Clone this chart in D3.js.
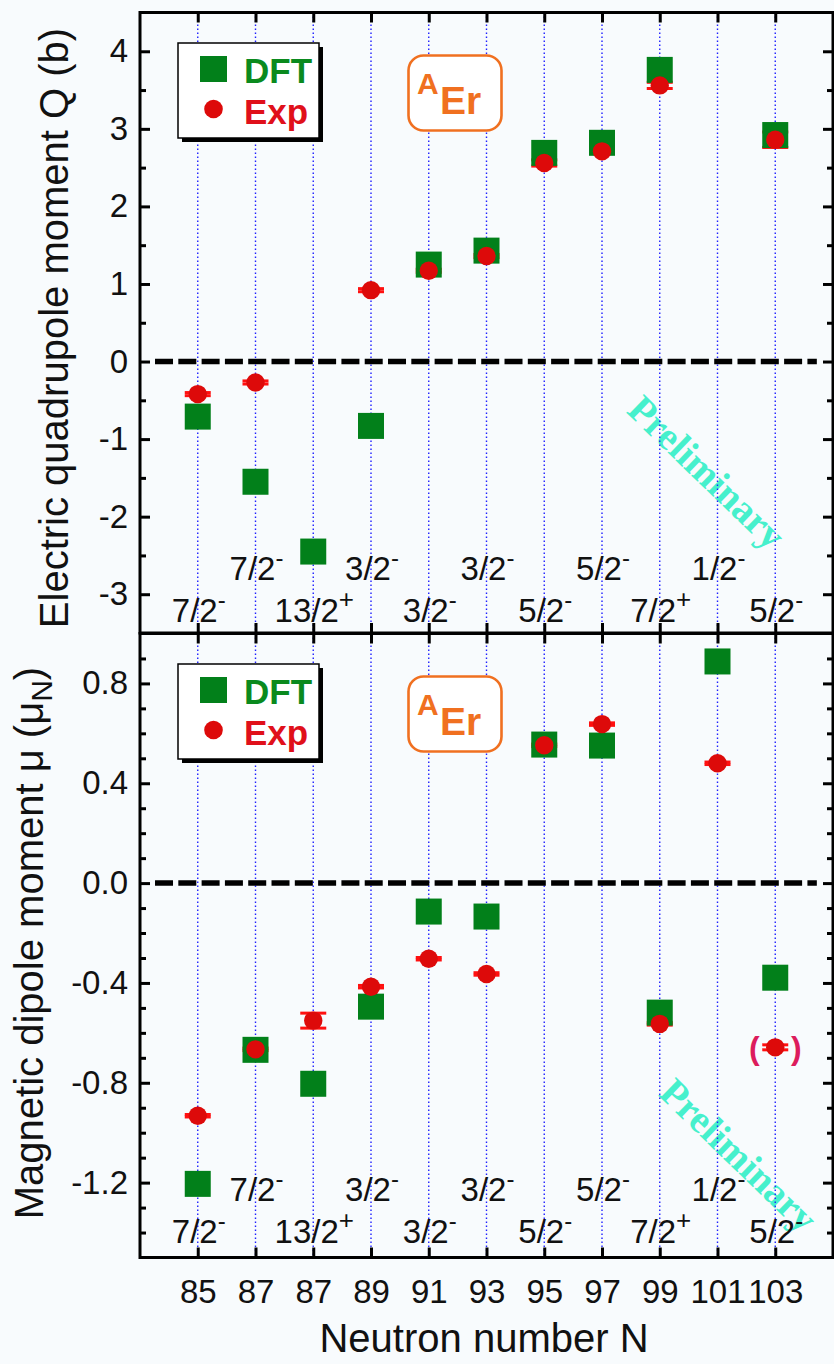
<!DOCTYPE html>
<html>
<head>
<meta charset="utf-8">
<script src="https://cdn.jsdelivr.net/npm/d3@7"></script>
<style>
  html, body { margin: 0; padding: 0; background: #f8fbfd; }
  svg { display: block; font-family: "Liberation Sans", Arial, sans-serif; }
</style>
</head>
<body>
<svg id="chart" width="834" height="1364"></svg>
<script>
// Odd-A erbium isotopes: neutron number N and ground/isomer spin-parity
const neutronNumbers = ["85", "87", "87", "89", "91", "93", "95", "97", "99", "101", "103"];
const spinValues     = ["7/2", "7/2", "13/2", "3/2", "3/2", "3/2", "5/2", "5/2", "7/2", "1/2", "5/2"];
const spinParities   = ["-", "-", "+", "-", "-", "-", "-", "-", "+", "-", "-"];

// Electric quadrupole moment Q (b); null where no value exists
const quadDFT    = [-0.71, -1.55, -2.45, -0.83, 1.25, 1.43, 2.69, 2.82, 3.76, null, 2.92];
const quadExp    = [-0.42, -0.27, null, 0.92, 1.17, 1.36, 2.56, 2.71, 3.56, null, 2.86];
const quadExpErr = [0.02, 0.02, null, 0.02, 0.02, 0.02, 0.04, 0.02, 0.04, null, 0.10];

// Magnetic dipole moment mu (mu_N)
const magDFT    = [-1.205, -0.668, -0.804, -0.495, -0.114, -0.134, 0.555, 0.551, -0.519, 0.888, -0.379];
const magExp    = [-0.932, -0.666, -0.551, -0.415, -0.303, -0.364, 0.552, 0.637, -0.564, 0.480, -0.658];
const magExpErr = [0.005, 0.005, 0.03, 0.005, 0.005, 0.005, 0.005, 0.005, 0.005, 0.005, 0.01];
const magExpTentative = [false, false, false, false, false, false, false, false, false, false, true];

// Axis tick values
const quadTicks = [-3, -2, -1, 0, 1, 2, 3, 4];
const magTicks  = [-1.2, -0.8, -0.4, 0.0, 0.4, 0.8];

const GREEN = "#02801a", RED = "#dd0a0a", ERR = "#ff1010", ORANGE = "#f07020", CYAN = "#46f0cc";
const X0 = 140, X1 = 833;
const svg = d3.select("#chart");

const x = d3.scaleLinear().domain([-1, 11]).range([X0, X1]);
const idx = d3.range(neutronNumbers.length);

const panels = [
  { top: 12.5, bottom: 633, domain: [-3.5, 4.5], minorCount: 16,
    dft: quadDFT, exp: quadExp, err: quadExpErr, tentative: null,
    ticks: quadTicks, fmt: v => String(v),
    titleX: 68, titleY: 328, prelim: [707, 472], showX: false },
  { top: 633.5, bottom: 1257.5, domain: [-1.5, 1.0], minorCount: 25,
    dft: magDFT, exp: magExp, err: magExpErr, tentative: magExpTentative,
    ticks: magTicks, fmt: v => (Math.abs(v) < 1e-9 ? 0 : v).toFixed(1),
    titleX: 43, titleY: 943, prelim: [739, 1155], showX: true }
];

panels.forEach((p, pi) => {
  const y = d3.scaleLinear().domain(p.domain).range([p.bottom, p.top]);
  const g = svg.append("g");
  const off = p.top - panels[0].top;

  // watermark
  g.append("text")
    .attr("transform", `translate(${p.prelim[0]},${p.prelim[1]}) rotate(44)`)
    .attr("text-anchor", "middle").attr("dominant-baseline", "central")
    .attr("font-family", "'Liberation Serif', 'Times New Roman', serif")
    .attr("font-weight", "bold").attr("font-size", 39)
    .attr("fill", CYAN).text("Preliminary");

  // dotted guide lines at each isotope
  g.selectAll(".guide").data(idx).join("line")
    .attr("x1", d => x(d)).attr("x2", d => x(d))
    .attr("y1", p.top).attr("y2", p.bottom)
    .attr("stroke", "#2020ff").attr("stroke-width", 1.4)
    .attr("stroke-dasharray", "1.6,2.4");

  // zero reference line
  g.append("line")
    .attr("x1", x(-0.74)).attr("x2", x(10.72))
    .attr("y1", y(0)).attr("y2", y(0))
    .attr("stroke", "#000").attr("stroke-width", 5.5)
    .attr("stroke-dasharray", "18,5.3");

  // spin-parity labels, alternating rows
  const spin = g.selectAll(".spin").data(idx).join("text")
    .attr("x", d => x(d) + 1)
    .attr("y", d => (d % 2 === 0 ? 621.5 : 579.5) + off)
    .attr("text-anchor", "middle").attr("font-size", 33).attr("fill", "#111");
  spin.append("tspan").text(d => spinValues[d]);
  spin.append("tspan").attr("font-size", d => spinParities[d] === "+" ? 26 : 24)
    .attr("dy", -14).text(d => spinParities[d]);

  // legend
  const lg = g.append("g").attr("transform", `translate(0,${off})`);
  lg.append("rect").attr("x", 182).attr("y", 47).attr("width", 141).attr("height", 95).attr("fill", "#000");
  lg.append("rect").attr("x", 178).attr("y", 43).attr("width", 141).attr("height", 95)
    .attr("fill", "#fff").attr("stroke", "#000").attr("stroke-width", 1.5);
  lg.append("rect").attr("x", 200).attr("y", 56).attr("width", 27).attr("height", 26).attr("fill", GREEN);
  lg.append("circle").attr("cx", 213.5).attr("cy", 109).attr("r", 9.3).attr("fill", RED);
  lg.append("text").attr("x", 244).attr("y", 83).attr("font-size", 35).attr("font-weight", "bold")
    .attr("fill", "#0a8a1e").text("DFT");
  lg.append("text").attr("x", 244).attr("y", 123.5).attr("font-size", 35).attr("font-weight", "bold")
    .attr("fill", "#e0101a").text("Exp");

  // element label
  const el = g.append("g").attr("transform", `translate(0,${off})`);
  el.append("rect").attr("x", 408.5).attr("y", 55.5).attr("width", 93).attr("height", 75).attr("rx", 15)
    .attr("fill", "#fff").attr("stroke", ORANGE).attr("stroke-width", 2.6);
  el.append("text").attr("x", 417).attr("y", 94).attr("font-size", 30).attr("font-weight", "bold")
    .attr("fill", ORANGE).text("A");
  el.append("text").attr("x", 440).attr("y", 114).attr("font-size", 39).attr("font-weight", "bold")
    .attr("fill", ORANGE).text("Er");

  // experimental error bars
  const withExp = idx.filter(i => p.exp[i] !== null);
  const eb = g.selectAll(".err").data(withExp).join("g");
  eb.append("line")
    .attr("x1", d => x(d)).attr("x2", d => x(d))
    .attr("y1", d => y(p.exp[d] - p.err[d])).attr("y2", d => y(p.exp[d] + p.err[d]))
    .attr("stroke", ERR).attr("stroke-width", 3);
  [-1, 1].forEach(s => {
    eb.append("line")
      .attr("x1", d => x(d) - 13).attr("x2", d => x(d) + 13)
      .attr("y1", d => y(p.exp[d] + s * p.err[d])).attr("y2", d => y(p.exp[d] + s * p.err[d]))
      .attr("stroke", ERR).attr("stroke-width", 3);
  });

  // DFT squares
  const withDft = idx.filter(i => p.dft[i] !== null);
  g.selectAll(".dft").data(withDft).join("rect")
    .attr("x", d => x(d) - 13).attr("y", d => y(p.dft[d]) - 13)
    .attr("width", 26).attr("height", 26).attr("fill", GREEN);

  // experimental points
  g.selectAll(".exp").data(withExp).join("circle")
    .attr("cx", d => x(d)).attr("cy", d => y(p.exp[d])).attr("r", 9.2).attr("fill", RED);

  // tentative values shown in parentheses
  if (p.tentative) {
    const tent = idx.filter(i => p.tentative[i]);
    [["(", -21], [")", 21]].forEach(([ch, dx]) => {
      g.selectAll(null).data(tent).join("text")
        .attr("x", d => x(d) + dx).attr("y", d => y(p.exp[d]))
        .attr("dy", "0.36em").attr("text-anchor", "middle")
        .attr("font-size", 32).attr("font-weight", "bold").attr("fill", "#dc1c5c").text(ch);
    });
  }

  // axes: ticks inward on all four sides
  const style = sel => {
    sel.select(".domain").remove();
    sel.selectAll("line").attr("stroke", "#000").attr("stroke-width", 3);
    sel.selectAll("text").attr("font-size", 33).attr("fill", "#111")
      .attr("font-family", "'Liberation Sans', Arial, sans-serif");
  };
  const minor = y.ticks(p.minorCount).filter(v => !p.ticks.some(t => Math.abs(t - v) < 1e-6)
    && v > p.domain[0] + 1e-6 && v < p.domain[1] - 1e-6);

  g.append("g").attr("transform", `translate(${X0},0)`)
    .call(d3.axisLeft(y).tickValues(p.ticks).tickSize(-10).tickPadding(12).tickFormat(p.fmt)).call(style);
  g.append("g").attr("transform", `translate(${X0},0)`)
    .call(d3.axisLeft(y).tickValues(minor).tickSize(-6).tickFormat("")).call(style);
  g.append("g").attr("transform", `translate(${X1},0)`)
    .call(d3.axisRight(y).tickValues(p.ticks).tickSize(-10).tickFormat("")).call(style);
  g.append("g").attr("transform", `translate(${X1},0)`)
    .call(d3.axisRight(y).tickValues(minor).tickSize(-6).tickFormat("")).call(style);
  g.append("g").attr("transform", `translate(0,${p.top})`)
    .call(d3.axisTop(x).tickValues(idx).tickSize(-10).tickFormat("")).call(style);
  g.append("g").attr("transform", `translate(0,${p.bottom})`)
    .call(d3.axisBottom(x).tickValues(idx).tickSize(-10).tickPadding(22)
      .tickFormat(p.showX ? (d => neutronNumbers[d]) : "")).call(style);

  // frame
  g.append("rect").attr("x", X0).attr("y", p.top).attr("width", X1 - X0).attr("height", p.bottom - p.top)
    .attr("fill", "none").attr("stroke", "#000").attr("stroke-width", 3);

  // y-axis title
  const t = g.append("text")
    .attr("transform", `translate(${p.titleX},${p.titleY}) rotate(-90)`)
    .attr("text-anchor", "middle").attr("font-size", 40).attr("fill", "#111");
  if (pi === 0) {
    t.text("Electric quadrupole moment Q (b)");
  } else {
    t.append("tspan").text("Magnetic dipole moment μ (μ");
    t.append("tspan").attr("font-size", 30).attr("dy", 9).text("N");
    t.append("tspan").attr("dy", -9).text(")");
  }
});

// x-axis title
svg.append("text").attr("x", 484).attr("y", 1352).attr("text-anchor", "middle")
  .attr("font-size", 40).attr("fill", "#111").text("Neutron number N");
</script>
</body>
</html>
